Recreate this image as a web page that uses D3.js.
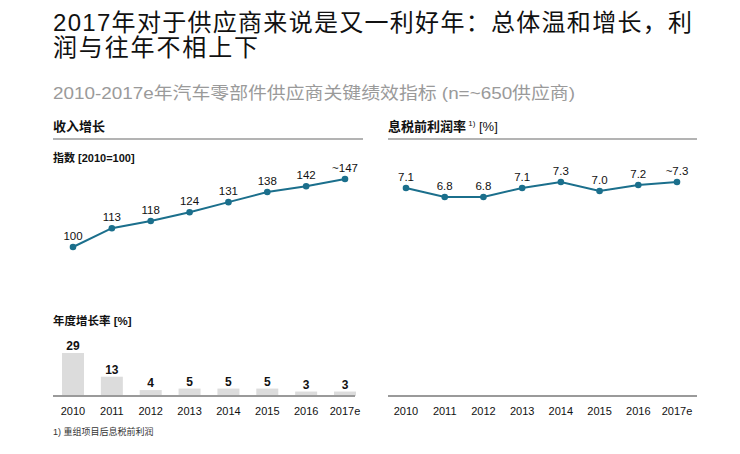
<!DOCTYPE html>
<html><head><meta charset="utf-8">
<script src="https://cdn.jsdelivr.net/npm/d3@7/dist/d3.min.js"></script>
<style>
html,body{margin:0;padding:0;background:#fff;}
svg{display:block;font-family:"Liberation Sans","Noto Sans CJK SC",Arial,sans-serif;}
</style></head>
<body><svg id="c" width="740" height="454"></svg>
<script>
// ---- data ----
const years = ["2010","2011","2012","2013","2014","2015","2016","2017e"];
const revenueIndex = [100,113,118,124,131,138,142,147];
const revenueLabels = ["100","113","118","124","131","138","142","~147"];
const ebitMargin = [7.1,6.8,6.8,7.1,7.3,7.0,7.2,7.3];
const ebitLabels = ["7.1","6.8","6.8","7.1","7.3","7.0","7.2","~7.3"];
const growthRate = [29,13,4,5,5,5,3,3];
const titleLines = ["2017年对于供应商来说是又一利好年：总体温和增长，利","润与往年不相上下"];
const subtitle = "2010-2017e年汽车零部件供应商关键绩效指标 (n=~650供应商)";
const footnote = "1) 重组项目后息税前利润";

const svg = d3.select("#c");
const CJK = '"Liberation Sans","Noto Sans CJK SC",sans-serif';
const lineColor = "#1b6f8c";

// title
svg.append("text").attr("x",53).attr("y",31).attr("font-size",24).attr("fill","#111")
  .attr("textLength",639).attr("lengthAdjust","spacing").text(titleLines[0]);
svg.append("text").attr("x",53).attr("y",56).attr("font-size",24).attr("fill","#111")
  .attr("textLength",205).attr("lengthAdjust","spacing").text(titleLines[1]);
svg.append("text").attr("x",53).attr("y",99).attr("font-size",17).attr("fill","#9a9a9a")
  .attr("textLength",522).attr("lengthAdjust","spacingAndGlyphs").text(subtitle);

// section headers
function header(x, x2, txt, sup, tail){
  const t = svg.append("text").attr("x",x).attr("y",131).attr("font-size",13).attr("font-weight","bold").attr("fill","#111");
  t.append("tspan").text(txt);
  if(sup){
    t.append("tspan").attr("font-size",8).attr("dy",-5).attr("font-weight","normal").text(sup);
    t.append("tspan").attr("dy",5).attr("font-weight","normal").text(tail);
  }
  svg.append("line").attr("x1",x).attr("x2",x2).attr("y1",139).attr("y2",139)
    .attr("stroke","#9a9a9a").attr("stroke-width",1.5);
}
header(53,363,"收入增长");
header(388,697,"息税前利润率"," 1)"," [%]");

svg.append("text").attr("x",53).attr("y",162).attr("font-size",11).attr("font-weight","bold").attr("fill","#111").text("指数 [2010=100]");
svg.append("text").attr("x",53).attr("y",325).attr("font-size",11.5).attr("font-weight","bold").attr("fill","#111").text("年度增长率 [%]");

// scales
const xL = d3.scalePoint().domain(years).range([73,345]);
const xR = d3.scalePoint().domain(years).range([406,677]);
const yRev = d3.scaleLinear().domain([100,147]).range([247,179]);
const yEbit = d3.scaleLinear().domain([6.8,7.3]).range([197,182]);
const yBar = d3.scaleLinear().domain([0,29]).range([396,353]);

function drawLine(x, y, vals, labels){
  const pts = years.map((yr,i)=>({yr, v:vals[i], l:labels[i]}));
  svg.append("path").datum(pts)
    .attr("d", d3.line().x(d=>x(d.yr)).y(d=>y(d.v)))
    .attr("fill","none").attr("stroke",lineColor).attr("stroke-width",2);
  svg.selectAll(null).data(pts).enter().append("circle")
    .attr("cx",d=>x(d.yr)).attr("cy",d=>y(d.v)).attr("r",3.3).attr("fill",lineColor);
  svg.selectAll(null).data(pts).enter().append("text")
    .attr("x",d=>x(d.yr)).attr("y",d=>y(d.v)-7).attr("text-anchor","middle")
    .attr("font-size",11.5).attr("fill","#111").text(d=>d.l);
}
drawLine(xL, yRev, revenueIndex, revenueLabels);
drawLine(xR, yEbit, ebitMargin, ebitLabels);

// bars
const bw = 22;
svg.selectAll(null).data(years).enter().append("rect")
  .attr("x",d=>xL(d)-bw/2).attr("width",bw)
  .attr("y",(d,i)=>yBar(growthRate[i])).attr("height",(d,i)=>yBar(0)-yBar(growthRate[i]))
  .attr("fill","#dcdcdc");
svg.selectAll(null).data(years).enter().append("text")
  .attr("x",d=>xL(d)).attr("y",(d,i)=>yBar(growthRate[i])-3).attr("text-anchor","middle")
  .attr("font-size",12).attr("font-weight","bold").attr("fill","#111").text((d,i)=>growthRate[i]);

// axes
function axisLine(x1,x2){
  svg.append("line").attr("x1",x1).attr("x2",x2).attr("y1",396).attr("y2",396)
    .attr("stroke","#9a9a9a").attr("stroke-width",2);
}
axisLine(53,355); axisLine(388,697);
function yearLabels(x){
  svg.selectAll(null).data(years).enter().append("text")
    .attr("x",d=>x(d)).attr("y",415).attr("text-anchor","middle")
    .attr("font-size",11).attr("fill","#111").text(d=>d);
}
yearLabels(xL); yearLabels(xR);

svg.append("text").attr("x",53).attr("y",435).attr("font-size",9).attr("fill","#333").text(footnote);
</script></body></html>
